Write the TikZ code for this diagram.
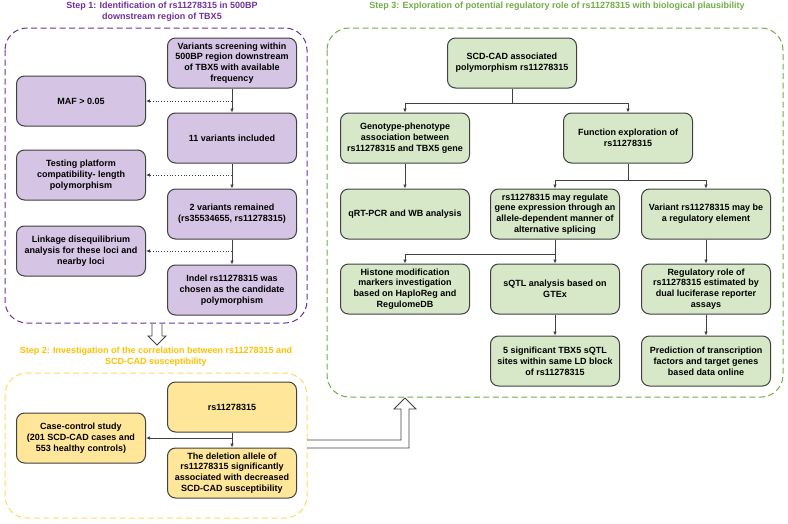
\documentclass[tikz,border=0pt]{standalone}
\usepackage{fontspec}
\setmainfont{Liberation Sans}
\usetikzlibrary{arrows.meta}
\definecolor{cA}{HTML}{404040}
\definecolor{cP}{HTML}{7030A0}
\definecolor{cPf}{HTML}{D5C4E4}
\definecolor{cY}{HTML}{FFC000}
\definecolor{cYl}{HTML}{FFD966}
\definecolor{cYf}{HTML}{FFE699}
\definecolor{cG}{HTML}{70AD47}
\definecolor{cGf}{HTML}{D6E8C8}
\tikzset{
  stepbox/.style={rounded corners=8pt,draw=cA,line width=1pt,minimum width=129pt,
    minimum height=50pt,inner sep=2pt,align=center,font=\fontsize{9}{10.8}\selectfont\bfseries},
  pbox/.style={stepbox,fill=cPf},
  ybox/.style={stepbox,fill=cYf},
  gbox/.style={stepbox,fill=cGf},
  frame/.style={rounded corners=22pt,dash pattern=on 6pt off 3.5pt,line width=1pt},
  steptitle/.style={align=center,font=\fontsize{9}{10.8}\selectfont\bfseries},
  flow/.style={-{Latex[length=4pt,width=3.6pt]},line width=0.8pt,cA},
  dotflow/.style={flow,dotted},
  hollow/.style={draw=cA,fill=white,line width=0.8pt},
}

\begin{document}
\begin{tikzpicture}[x=1pt,y=-1pt]
\useasboundingbox (0,0) rectangle (788,523);
% frames and titles
\draw[frame,cP] (5,28) rectangle (307,323);
\draw[frame,cYl] (5,373) rectangle (307,518);
\draw[frame,cG] (327,28) rectangle (783,397);
\node[steptitle,text=cP] (t1) at (162,12) {Step 1: Identification of rs11278315 in 500BP\\downstream region of TBX5};
\node[steptitle,text=cY] (t2) at (156,357) {Step 2: Investigation of the correlation between rs11278315 and\\SCD-CAD susceptibility};
\node[steptitle,text=cG] (t3) at (557,6) {Step 3: Exploration of potential regulatory role of rs11278315 with biological plausibility};

% step 1
\node[pbox] (v0) at (232,63) {Variants screening within\\500BP region downstream\\of TBX5 with available\\frequency};
\node[pbox] (maf) at (81,101) {MAF > 0.05};
\node[pbox] (v11) at (232,138) {11 variants included};
\node[pbox] (plat) at (81,175) {Testing platform\\compatibility- length\\polymorphism};
\node[pbox] (v2) at (232,214) {2 variants remained\\(rs35534655, rs11278315)};
\node[pbox] (ld) at (81,251) {Linkage disequilibrium\\analysis for these loci and\\nearby loci};
\node[pbox] (indel) at (232,290) {Indel rs11278315 was\\chosen as the candidate\\polymorphism};
\draw[flow] (v0) -- (v11);
\draw[flow] (v11) -- (v2);
\draw[flow] (v2) -- (indel);
\draw[dotflow] (v0.south |- maf.east) -- (maf.east);
\draw[dotflow] (v11.south |- plat.east) -- (plat.east);
\draw[dotflow] (v2.south |- ld.east) -- (ld.east);

% step 2
\node[ybox] (snp) at (232,407) {rs11278315};
\node[ybox] (cc) at (81,438) {Case-control study\\(201 SCD-CAD cases and\\553 healthy controls)};
\node[ybox] (del) at (232,473) {The deletion allele of\\rs11278315 significantly\\associated with decreased\\SCD-CAD susceptibility};
\draw[flow] (snp) -- (del);
\draw[flow] (snp.south |- cc.east) -- (cc.east);

% step 3
\node[gbox] (scd) at (512,63) {SCD-CAD associated\\polymorphism rs11278315};
\node[gbox] (geno) at (405,138) {Genotype-phenotype\\association between\\rs11278315 and TBX5 gene};
\node[gbox] (func) at (628,138) {Function exploration of\\rs11278315};
\node[gbox] (qpcr) at (405,214) {qRT-PCR and WB analysis};
\node[gbox] (splice) at (555,214) {rs11278315 may regulate\\gene expression through an\\allele-dependent manner of\\alternative splicing};
\node[gbox] (relem) at (706,214) {Variant rs11278315 may be\\a regulatory element};
\node[gbox] (histone) at (405,289) {Histone modification\\markers investigation\\based on HaploReg and\\RegulomeDB};
\node[gbox] (sqtl) at (555,289) {sQTL analysis based on\\GTEx};
\node[gbox] (rrole) at (706,289) {Regulatory role of\\rs11278315 estimated by\\dual luciferase reporter\\assays};
\node[gbox] (sig5) at (555,361) {5 significant TBX5 sQTL\\sites within same LD block\\of rs11278315};
\node[gbox] (pred) at (706,361) {Prediction of transcription\\factors and target genes\\based data online};
\coordinate (j1) at (512,103);
\coordinate (j2) at (628,180);
\coordinate (j3) at (555,254);
\draw[line width=0.8pt,cA] (scd.south) -- (j1);
\draw[flow] (j1) -| (geno.north);
\draw[flow] (j1) -| (func.north);
\draw[line width=0.8pt,cA] (func.south) -- (j2);
\draw[flow] (j2) -| (splice.north);
\draw[flow] (j2) -| (relem.north);
\draw[line width=0.8pt,cA] (splice.south) -- (j3);
\draw[flow] (j3) -| (histone.north);
\draw[flow] (j3) -- (sqtl.north);
\draw[flow] (geno) -- (qpcr);
\draw[flow] (relem) -- (rrole);
\draw[flow] (sqtl) -- (sig5);
\draw[flow] (rrole) -- (pred);

% hollow arrows between steps
\draw[hollow] (152,324) -- (152,336) -- (148,336) -- (157,345) -- (166,336) -- (162,336) -- (162,324);
\draw[hollow] (307,440) -- (401,440) -- (401,409) -- (394,409) -- (405,398) -- (416,409)
  -- (409,409) -- (409,448) -- (307,448);
\end{tikzpicture}
\end{document}
